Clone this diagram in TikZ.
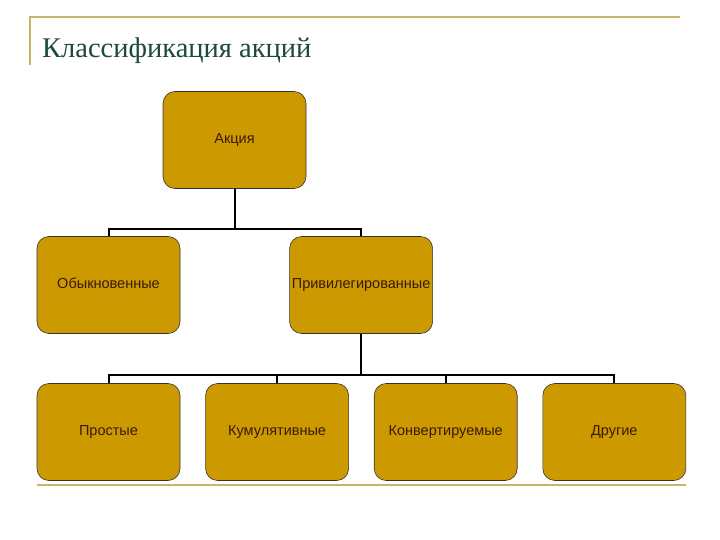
\documentclass[tikz,border=0pt]{standalone}
\usepackage{fontspec}
\setmainfont{Liberation Sans}
\newfontfamily\titlefont{Liberation Serif}
\usetikzlibrary{positioning}
\definecolor{boxgold}{HTML}{CC9900}
\definecolor{boxtext}{HTML}{3A1A05}
\definecolor{rulegold}{HTML}{C8B46A}
\definecolor{titlegreen}{HTML}{1E4A3A}

\begin{document}
\begin{tikzpicture}[x=1pt,y=-1pt,node distance=25pt,
                    share/.style={draw=black!80,fill=boxgold,rounded corners=12pt,
                      minimum width=143pt,minimum height=97pt,line width=0.6pt,
                      text=boxtext,font=\fontsize{14.5}{16}\selectfont,inner sep=0pt,
                      text height=1.5ex,text depth=0.25ex},
                    link/.style={draw=black,line width=2pt}]
  \useasboundingbox (0,0) rectangle (720,540);

  % frame and title
  \draw[rulegold,line width=2pt] (30,65) -- (30,17) -- (680,17);
  \draw[rulegold,line width=2pt] (37,485) -- (686,485);
  \node[anchor=base west,text=titlegreen,font=\titlefont\fontsize{28.5}{32}\selectfont,inner sep=0pt]
    (title) at (42,58) {Классификация акций};

  \node[share]         (share)      at (234.5,140)           {Акция};
  \node[share]         (ordinary)   at (108.5,285)           {Обыкновенные};
  \node[share]         (preferred)  [right=109pt of ordinary] {Привилегированные};
  \node[share]         (simple)     at (108.5,432)           {Простые};
  \node[share]         (cumulative) [right=of simple]        {Кумулятивные};
  \node[share]         (convertible)[right=of cumulative]    {Конвертируемые};
  \node[share]         (other)      [right=of convertible]   {Другие};

  \draw[link] (share.south) -- ++(0,40) -| (ordinary.north);
  \draw[link] (share.south) -- ++(0,40) -| (preferred.north);

  \foreach \kind in {simple,cumulative,convertible,other}
    \draw[link] (preferred.south) -- ++(0,41) -| (\kind.north);

\end{tikzpicture}
\end{document}
